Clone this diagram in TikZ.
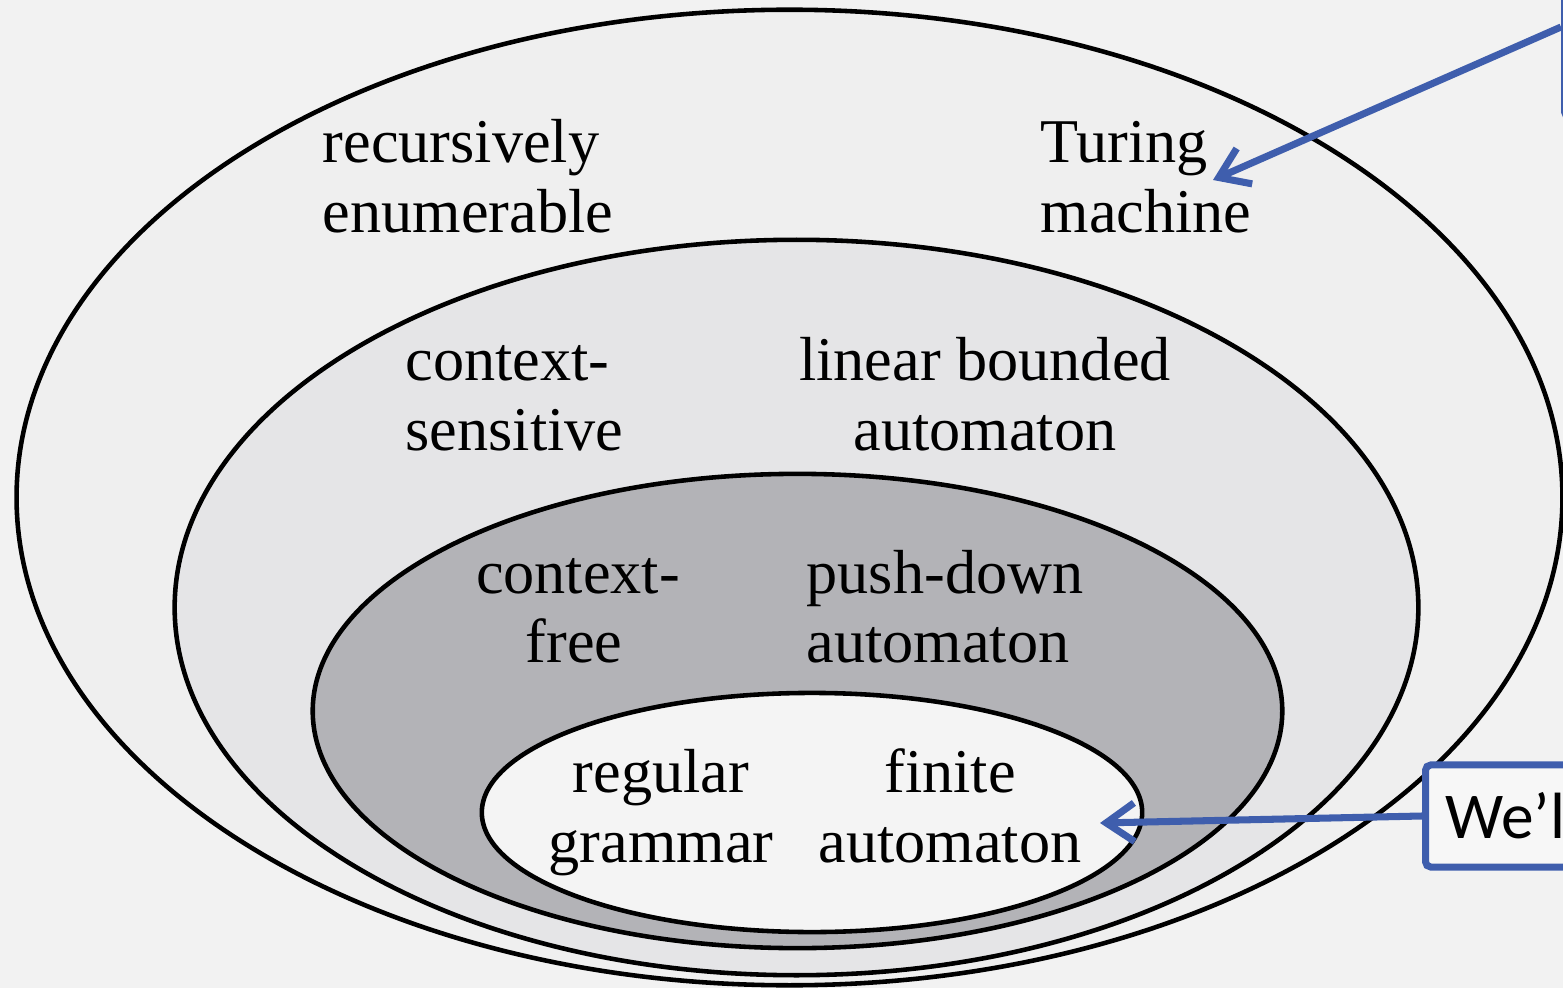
\documentclass[tikz,border=0pt]{standalone}
\usepackage{fontspec}
\setmainfont{Liberation Serif}
\newfontfamily\notefont{Carlito}
\usetikzlibrary{arrows.meta}

\definecolor{paper}{HTML}{F2F2F2}
\definecolor{reLevel}{HTML}{EFEFEF}
\definecolor{csLevel}{HTML}{E5E5E7}
\definecolor{cfLevel}{HTML}{B3B3B7}
\definecolor{regLevel}{HTML}{F4F4F4}
\definecolor{noteblue}{HTML}{3F5EAD}
\definecolor{notefill}{HTML}{F7F7F7}

\tikzset{
  ring/.style={draw=black, line width=1.3pt},
  lbl/.style={inner sep=0pt, font=\fontsize{17.7}{20}\selectfont},
  pointer/.style={draw=noteblue, line width=2pt,
    -{Straight Barb[length=8pt,width=11pt,line width=2pt]}},
  notebox/.style={draw=noteblue, fill=notefill, line width=2pt,
    rounded corners=1.5pt, inner sep=0pt}
}

\begin{document}
\begin{tikzpicture}[x=0.01cm, y=-0.01cm]
\useasboundingbox (0,0) rectangle (1563,988);
\fill[paper] (0,0) rectangle (1563,988);

\begin{scope}
\clip (0,0) rectangle (1563,988);

% nested language classes
\draw[ring, fill=reLevel]  (789.5,497.5) ellipse [x radius=7.725cm, y radius=4.875cm];
\draw[ring, fill=csLevel]  (796.5,607.5) ellipse [x radius=6.215cm, y radius=3.675cm];
\draw[ring, fill=cfLevel]  (797.5,711)   ellipse [x radius=4.845cm, y radius=2.37cm];
\draw[ring, fill=regLevel] (812,812.5)   ellipse [x radius=3.30cm,  y radius=1.195cm];

% grammar / machine labels
\node[lbl, anchor=base west] (re1) at (322,163) {recursively};
\node[lbl, anchor=base west] (re2) at (322,232) {enumerable};
\node[lbl, anchor=base west] (tm1) at (1040,163) {Turing};
\node[lbl, anchor=base west] (tm2) at (1040,232) {machine};

\node[lbl, anchor=base west] (cs1) at (405,380) {context-};
\node[lbl, anchor=base west] (cs2) at (405,450) {sensitive};
\node[lbl, anchor=base] (lb1) at (985,380) {linear bounded};
\node[lbl, anchor=base] (lb2) at (985,450) {automaton};

\node[lbl, anchor=base] (cf1) at (578,593) {context-};
\node[lbl, anchor=base] (cf2) at (574,662) {free};
\node[lbl, anchor=base west] (pd1) at (806,593) {push-down};
\node[lbl, anchor=base west] (pd2) at (806,662) {automaton};

\node[lbl, anchor=base] (rg1) at (661,792) {regular};
\node[lbl, anchor=base] (rg2) at (661,862) {grammar};
\node[lbl, anchor=base] (fa1) at (950,792) {finite};
\node[lbl, anchor=base] (fa2) at (950,862) {automaton};

% callout boxes at the right margin
\node[notebox, anchor=west, minimum width=3cm, minimum height=1.8cm] (topnote) at (1561,27) {};
\node[notebox, anchor=west, minimum height=1.02cm, inner xsep=0.2cm,
      font=\notefont\fontsize{18.6}{21}\selectfont]
      (wenote) at (1422,816) {We’ll\rule{3cm}{0pt}};

\coordinate (tmtip) at (1213,180);
\coordinate (fatip) at (1100,823);
\draw[pointer] (topnote.west) -- (tmtip);
\draw[pointer] (wenote.west) -- (fatip);
\end{scope}
\end{tikzpicture}
\end{document}
